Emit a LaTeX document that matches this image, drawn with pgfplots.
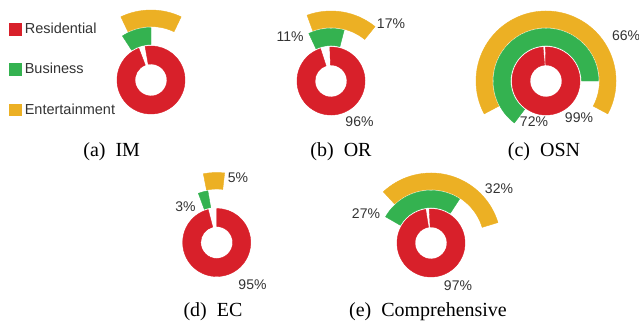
\documentclass[border=0pt]{standalone}
\usepackage{pgfplots}
\pgfplotsset{compat=1.18}
\usepackage{pgfplotstable}
\usepackage{fontspec}
\setmainfont{Liberation Serif}
\newfontfamily\lab{Liberation Sans}
\definecolor{cRes}{RGB}{216,32,42}
\definecolor{cBus}{RGB}{52,178,80}
\definecolor{cEnt}{RGB}{236,176,36}
\definecolor{tgray}{RGB}{51,51,51}
\pgfdeclareplotmark{nothing}{}
% x, y: centre of each radial chart (picture pixels); a, b: start and end angle, clockwise from 12 o'clock
\pgfplotstableread{
x     y     a     b
151   80    -10   339
331   81    -2    342
546   81    -1    355
216.7 242.5 0     345.5
431   243   -3    351
}\resdata
\pgfplotstableread{
x     y     a     b
151   80    -33   0
331   81    -25   14.5
546   81    -143  90
216.7 242.5 -20.5 -9.7
431   243   -60   33
}\busdata
\pgfplotstableread{
x     y     a     b
151   80    -25.5 25.5
331   81    -20   39
546   81    -118  118
216.7 242.5 -11   6.5
431   243   -43   73
}\entdata
\pgfplotsset{
  ringseg/.style n args={3}{% colour, inner radius, outer radius
    scatter, only marks, mark=nothing,
    visualization depends on={\thisrow{a}\as\sa},
    visualization depends on={\thisrow{b}\as\sb},
    scatter/@pre marker code/.code={%
      \pgfmathsetmacro\tA{90-\sa}%
      \pgfmathsetmacro\tB{90-\sb}%
      \fill[#1] (\tA:#2pt) arc[start angle=\tA, end angle=\tB, radius=#2pt]
        -- (\tB:#3pt) arc[start angle=\tB, end angle=\tA, radius=#3pt] -- cycle;
    },
    scatter/@post marker code/.code={},
    legend image code/.code={\fill[#1] (0pt,-5.75pt) rectangle (11.5pt,5.75pt);},
  }
}
\begin{document}
\begin{tikzpicture}
\begin{axis}[
  at={(0pt,0pt)}, anchor=south west,
  width=639pt, height=327pt, scale only axis,
  xmin=0, xmax=639, ymin=0, ymax=327, y dir=reverse,
  hide axis, clip=false,
  point meta min=0, point meta max=1,
  legend style={draw=none, fill=none, inner sep=0pt, outer sep=0pt,
    at={(axis cs:9.3,21.5)}, anchor=north west,
    font=\lab\fontsize{14.5}{17}\selectfont, text=tgray,
    row sep=25pt, nodes={inner sep=1.6pt},
    /tikz/every odd column/.append style={column sep=2pt}},
  legend cell align=left,
]
\addplot[ringseg={cRes}{16}{34}] table[x=x, y=y] {\resdata};
\addlegendentry{Residential}
\addplot[ringseg={cBus}{35.5}{52.5}] table[x=x, y=y] {\busdata};
\addlegendentry{Business}
\addplot[ringseg={cEnt}{53.5}{70}] table[x=x, y=y] {\entdata};
\addlegendentry{Entertainment}

\begin{scope}[every node/.style={font=\lab\fontsize{14}{16}\selectfont, text=tgray, inner sep=0pt}]
\node at (axis cs:290,37) {11\%};
\node at (axis cs:391,24) {17\%};
\node at (axis cs:359.5,122) {96\%};
\node at (axis cs:626,36) {66\%};
\node at (axis cs:534,122) {72\%};
\node at (axis cs:579,118) {99\%};
\node at (axis cs:238,178) {5\%};
\node at (axis cs:185.5,207) {3\%};
\node at (axis cs:252.5,285) {95\%};
\node at (axis cs:499,189) {32\%};
\node at (axis cs:366,214) {27\%};
\node at (axis cs:458,285.5) {97\%};
\end{scope}

\begin{scope}[every node/.style={font=\fontsize{20}{24}\selectfont, inner sep=0pt, anchor=base}]
\node at (axis cs:111.7,156.5) {(a)\hspace{0.5em}IM};
\node at (axis cs:341,156.5) {(b)\hspace{0.5em}OR};
\node at (axis cs:544,156.5) {(c)\hspace{0.5em}OSN};
\node at (axis cs:213,316.5) {(d)\hspace{0.5em}EC};
\node at (axis cs:428,316.5) {(e)\hspace{0.5em}Comprehensive};
\end{scope}
\end{axis}
\pgfresetboundingbox
\path[use as bounding box] (0pt,0pt) rectangle (639pt,327pt);
\end{tikzpicture}
\end{document}
